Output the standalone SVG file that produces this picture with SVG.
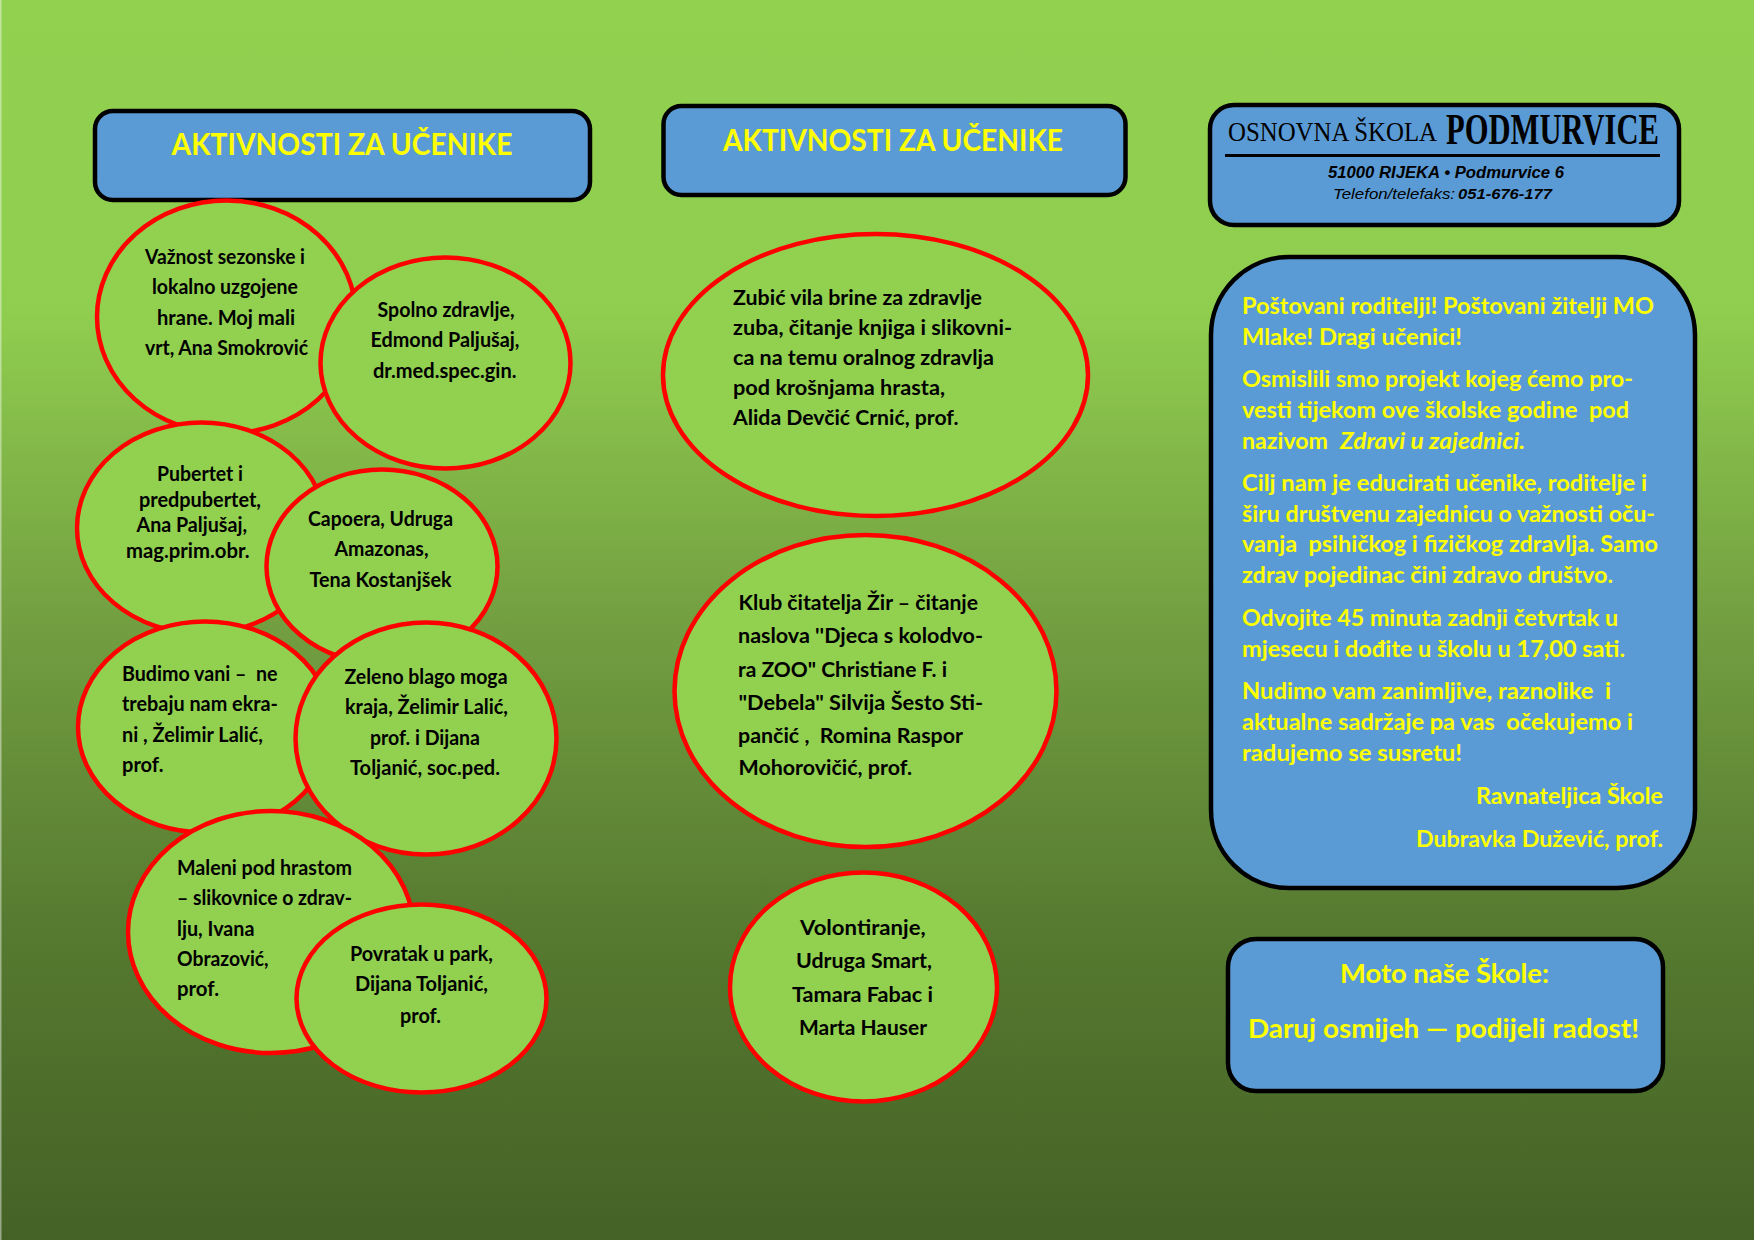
<svg xmlns="http://www.w3.org/2000/svg" width="1754" height="1240" viewBox="0 0 1754 1240">
<style>
.box{fill:#5B9BD5;stroke:#000;stroke-width:4.5}
.el{fill:#92D050;stroke:#F00;stroke-width:4.5}
text{font-family:Lato,"Liberation Sans",sans-serif;font-weight:700;white-space:pre}
.b{font-size:20px;fill:#000}
.y{font-size:22px;fill:#FF0}
.t{font-size:30px;fill:#FF0}
.m{font-size:27px;fill:#FF0}
.lg{font-family:"Liberation Serif",serif;fill:#000}
.ar{font-family:"Liberation Sans",sans-serif;fill:#000;font-style:italic}
.r{font-weight:400}
</style>
<defs>
<linearGradient id="bg" x1="0" y1="0" x2="0" y2="1">
<stop offset="0" stop-color="#92D050"/><stop offset="0.25" stop-color="#90CE4F"/><stop offset="0.5" stop-color="#739F41"/><stop offset="0.75" stop-color="#567A30"/><stop offset="1" stop-color="#456226"/>
</linearGradient>
</defs>
<rect id="background" width="1754" height="1240" fill="url(#bg)"/>
<rect x="0" y="0" width="1.5" height="1240" fill="#fff" opacity="0.45"/>

<g id="title-left">
<rect class="box" x="95" y="111" width="495" height="89" rx="18"/>
<text class="t" x="171.500" y="155" textLength="341" lengthAdjust="spacingAndGlyphs">AKTIVNOSTI ZA UČENIKE</text>
</g>
<g id="node-vaznost">
<ellipse class="el" cx="226.500" cy="317" rx="129.500" ry="116.500"/>
<text class="b" x="145" y="264" textLength="160" lengthAdjust="spacingAndGlyphs">Važnost sezonske i</text>
<text class="b" x="152" y="294" textLength="146" lengthAdjust="spacingAndGlyphs">lokalno uzgojene</text>
<text class="b" x="157" y="325" textLength="138" lengthAdjust="spacingAndGlyphs">hrane. Moj mali</text>
<text class="b" x="145" y="355" textLength="163" lengthAdjust="spacingAndGlyphs">vrt, Ana Smokrović</text>
</g>
<g id="node-spolno">
<ellipse class="el" cx="445.500" cy="363" rx="125" ry="105.500"/>
<text class="b" x="377.500" y="317" textLength="137" lengthAdjust="spacingAndGlyphs">Spolno zdravlje,</text>
<text class="b" x="370.500" y="347" textLength="149" lengthAdjust="spacingAndGlyphs">Edmond Paljušaj,</text>
<text class="b" x="373" y="378" textLength="143.500" lengthAdjust="spacingAndGlyphs">dr.med.spec.gin.</text>
</g>
<g id="node-pubertet">
<ellipse class="el" cx="201.500" cy="528" rx="124.500" ry="105.500"/>
<text class="b" x="157" y="481" textLength="86" lengthAdjust="spacingAndGlyphs">Pubertet i</text>
<text class="b" x="139" y="507" textLength="122" lengthAdjust="spacingAndGlyphs">predpubertet,</text>
<text class="b" x="136.500" y="532" textLength="110.500" lengthAdjust="spacingAndGlyphs">Ana Paljušaj,</text>
<text class="b" x="126" y="558" textLength="123.500" lengthAdjust="spacingAndGlyphs">mag.prim.obr.</text>
</g>
<g id="node-capoera">
<ellipse class="el" cx="382" cy="566.500" rx="115.500" ry="97"/>
<text class="b" x="308" y="526" textLength="145" lengthAdjust="spacingAndGlyphs">Capoera, Udruga</text>
<text class="b" x="334.500" y="556" textLength="94" lengthAdjust="spacingAndGlyphs">Amazonas,</text>
<text class="b" x="309.500" y="587" textLength="142" lengthAdjust="spacingAndGlyphs">Tena Kostanjšek</text>
</g>
<g id="node-budimo">
<ellipse class="el" cx="205" cy="727" rx="127" ry="105.500"/>
<text class="b" x="122" y="681" textLength="155.500" lengthAdjust="spacingAndGlyphs">Budimo vani –  ne</text>
<text class="b" x="122" y="711" textLength="156" lengthAdjust="spacingAndGlyphs">trebaju nam ekra-</text>
<text class="b" x="122" y="742" textLength="141" lengthAdjust="spacingAndGlyphs">ni , Želimir Lalić,</text>
<text class="b" x="122" y="772" textLength="41.400" lengthAdjust="spacingAndGlyphs">prof.</text>
</g>
<g id="node-zeleno">
<ellipse class="el" cx="426" cy="738.500" rx="130.500" ry="116"/>
<text class="b" x="344.500" y="684" textLength="163" lengthAdjust="spacingAndGlyphs">Zeleno blago moga</text>
<text class="b" x="345" y="714" textLength="163" lengthAdjust="spacingAndGlyphs">kraja, Želimir Lalić,</text>
<text class="b" x="370" y="745" textLength="110" lengthAdjust="spacingAndGlyphs">prof. i Dijana</text>
<text class="b" x="350" y="775" textLength="150" lengthAdjust="spacingAndGlyphs">Toljanić, soc.ped.</text>
</g>
<g id="node-maleni">
<ellipse class="el" cx="271" cy="932" rx="143" ry="121"/>
<text class="b" x="177" y="875" textLength="175" lengthAdjust="spacingAndGlyphs">Maleni pod hrastom</text>
<text class="b" x="177" y="905" textLength="175" lengthAdjust="spacingAndGlyphs">– slikovnice o zdrav-</text>
<text class="b" x="177" y="936" textLength="77.500" lengthAdjust="spacingAndGlyphs">lju, Ivana</text>
<text class="b" x="177" y="966" textLength="91.600" lengthAdjust="spacingAndGlyphs">Obrazović,</text>
<text class="b" x="177" y="996" textLength="42" lengthAdjust="spacingAndGlyphs">prof.</text>
</g>
<g id="node-povratak">
<ellipse class="el" cx="421.500" cy="998.500" rx="125" ry="94"/>
<text class="b" x="350" y="961" textLength="143" lengthAdjust="spacingAndGlyphs">Povratak u park,</text>
<text class="b" x="355" y="991" textLength="133" lengthAdjust="spacingAndGlyphs">Dijana Toljanić,</text>
<text class="b" x="400" y="1023" textLength="41" lengthAdjust="spacingAndGlyphs">prof.</text>
</g>

<g id="title-middle">
<rect class="box" x="663.500" y="106" width="462" height="89" rx="18"/>
<text class="t" x="723" y="150.500" textLength="340" lengthAdjust="spacingAndGlyphs">AKTIVNOSTI ZA UČENIKE</text>
</g>
<g id="node-zubic">
<ellipse class="el" cx="875.500" cy="375" rx="212.500" ry="141"/>
<text class="b" x="733" y="304.500" textLength="249" lengthAdjust="spacingAndGlyphs">Zubić vila brine za zdravlje</text>
<text class="b" x="733" y="334.500" textLength="279" lengthAdjust="spacingAndGlyphs">zuba, čitanje knjiga i slikovni-</text>
<text class="b" x="733" y="364.500" textLength="261" lengthAdjust="spacingAndGlyphs">ca na temu oralnog zdravlja</text>
<text class="b" x="733" y="394.500" textLength="212" lengthAdjust="spacingAndGlyphs">pod krošnjama hrasta,</text>
<text class="b" x="733" y="424.500" textLength="225.500" lengthAdjust="spacingAndGlyphs">Alida Devčić Crnić, prof.</text>
</g>
<g id="node-klub">
<ellipse class="el" cx="865.500" cy="691" rx="191" ry="156"/>
<text class="b" x="738.500" y="609.500" textLength="239.500" lengthAdjust="spacingAndGlyphs">Klub čitatelja Žir – čitanje</text>
<text class="b" x="738" y="643" textLength="245" lengthAdjust="spacingAndGlyphs">naslova ''Djeca s kolodvo-</text>
<text class="b" x="738" y="676.500" textLength="209" lengthAdjust="spacingAndGlyphs">ra ZOO" Christiane F. i</text>
<text class="b" x="738.500" y="709.500" textLength="244.500" lengthAdjust="spacingAndGlyphs">"Debela" Silvija Šesto Sti-</text>
<text class="b" x="738" y="742.500" textLength="225" lengthAdjust="spacingAndGlyphs">pančić ,  Romina Raspor</text>
<text class="b" x="738.500" y="775" textLength="173.500" lengthAdjust="spacingAndGlyphs">Mohorovičić, prof.</text>
</g>
<g id="node-volontiranje">
<ellipse class="el" cx="863.500" cy="987" rx="133.500" ry="114.500"/>
<text class="b" x="800" y="935" textLength="125.700" lengthAdjust="spacingAndGlyphs">Volontiranje,</text>
<text class="b" x="796" y="968" textLength="136" lengthAdjust="spacingAndGlyphs">Udruga Smart,</text>
<text class="b" x="792" y="1001.700" textLength="141" lengthAdjust="spacingAndGlyphs">Tamara Fabac i</text>
<text class="b" x="799" y="1035" textLength="128" lengthAdjust="spacingAndGlyphs">Marta Hauser</text>
</g>

<g id="school-header">
<rect class="box" x="1210" y="105" width="469" height="120" rx="24"/>
<text class="lg r" x="1228" y="141" font-size="27" textLength="209" lengthAdjust="spacingAndGlyphs">OSNOVNA ŠKOLA</text>
<text class="lg" x="1446" y="144" font-size="44" textLength="213" lengthAdjust="spacingAndGlyphs">PODMURVICE</text>
<rect x="1225" y="154" width="435" height="3" fill="#000"/>
<text class="ar" x="1328" y="177.700" font-size="16" textLength="236" lengthAdjust="spacingAndGlyphs">51000 RIJEKA • Podmurvice 6</text>
<text class="ar r" x="1333" y="199" font-size="15.500" textLength="122" lengthAdjust="spacingAndGlyphs">Telefon/telefaks:</text>
<text class="ar" x="1458" y="199" font-size="15.500" textLength="94" lengthAdjust="spacingAndGlyphs">051-676-177</text>
</g>
<g id="letter">
<rect class="box" x="1211" y="257" width="484" height="631" rx="78"/>
<text class="y" x="1242" y="313.700" textLength="412" lengthAdjust="spacingAndGlyphs">Poštovani roditelji! Poštovani žitelji MO</text>
<text class="y" x="1242" y="345" textLength="220" lengthAdjust="spacingAndGlyphs">Mlake! Dragi učenici!</text>
<text class="y" x="1242" y="387" textLength="391" lengthAdjust="spacingAndGlyphs">Osmislili smo projekt kojeg ćemo pro-</text>
<text class="y" x="1242" y="418" textLength="387" lengthAdjust="spacingAndGlyphs">vesti tijekom ove školske godine  pod</text>
<text class="y" x="1242" y="449" textLength="86" lengthAdjust="spacingAndGlyphs">nazivom</text>
<text class="y" x="1340" y="449" font-style="italic" textLength="185" lengthAdjust="spacingAndGlyphs">Zdravi u zajednici.</text>
<text class="y" x="1242" y="491" textLength="405" lengthAdjust="spacingAndGlyphs">Cilj nam je educirati učenike, roditelje i</text>
<text class="y" x="1242" y="522" textLength="413" lengthAdjust="spacingAndGlyphs">širu društvenu zajednicu o važnosti oču-</text>
<text class="y" x="1242" y="552" textLength="416" lengthAdjust="spacingAndGlyphs">vanja  psihičkog i fizičkog zdravlja. Samo</text>
<text class="y" x="1242" y="583" textLength="371" lengthAdjust="spacingAndGlyphs">zdrav pojedinac čini zdravo društvo.</text>
<text class="y" x="1242" y="626" textLength="376" lengthAdjust="spacingAndGlyphs">Odvojite 45 minuta zadnji četvrtak u</text>
<text class="y" x="1242" y="657" textLength="383" lengthAdjust="spacingAndGlyphs">mjesecu i dođite u školu u 17,00 sati.</text>
<text class="y" x="1242" y="699" textLength="369" lengthAdjust="spacingAndGlyphs">Nudimo vam zanimljive, raznolike  i</text>
<text class="y" x="1242" y="730" textLength="391" lengthAdjust="spacingAndGlyphs">aktualne sadržaje pa vas  očekujemo i</text>
<text class="y" x="1242" y="761" textLength="220" lengthAdjust="spacingAndGlyphs">radujemo se susretu!</text>
<text class="y" x="1476" y="804" textLength="187" lengthAdjust="spacingAndGlyphs">Ravnateljica Škole</text>
<text class="y" x="1416" y="847" textLength="247" lengthAdjust="spacingAndGlyphs">Dubravka Dužević, prof.</text>
</g>
<g id="motto">
<rect class="box" x="1228" y="939" width="435" height="152" rx="28"/>
<text class="m" x="1340" y="983" textLength="209" lengthAdjust="spacingAndGlyphs">Moto naše Škole:</text>
<text class="m" x="1248" y="1038" textLength="391" lengthAdjust="spacingAndGlyphs">Daruj osmijeh — podijeli radost!</text>
</g>
</svg>
